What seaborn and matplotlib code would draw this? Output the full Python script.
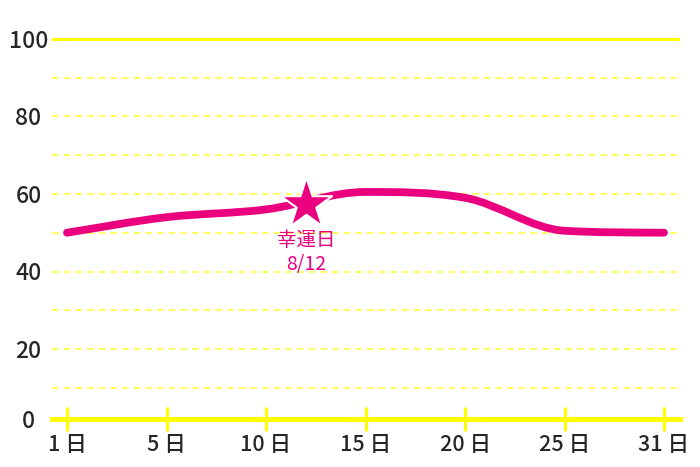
import numpy as np
import pandas as pd
import seaborn as sns
import matplotlib.pyplot as plt
from matplotlib.path import Path
from matplotlib.patches import PathPatch

sns.set_style("white")
plt.rcParams['font.family'] = ['Noto Sans CJK JP', 'DejaVu Sans']

# data
days = [1, 5, 10, 15, 20, 25, 31]
values = [50, 54, 56, 60.5, 59, 50.5, 50]
tick_labels = ["1 日", "5 日", "10 日", "15 日", "20 日", "25 日", "31 日"]
lucky_day = 12
lucky_value = 57.5
lucky_text = "幸運日\n8/12"
y_ticks = [0, 20, 40, 60, 80, 100]

pink = "#ea007f"
yellow = "#ffff00"
axis_base = 1.86  # the x axis line sits a little above zero in the original

# ticks are evenly spaced categories, so map day -> category position
pos = np.arange(len(days), dtype=float)
df = pd.DataFrame({"x": pos, "value": values})
lucky = pd.DataFrame({"x": [np.interp(lucky_day, days, pos)], "value": [lucky_value]})


def monotone_path(x, y):
    # monotone cubic (like chart.js) turned into bezier segments
    y = np.asarray(y, dtype=float)
    d = np.diff(y) / np.diff(x)
    m = np.zeros(len(y))
    m[0], m[-1] = d[0], d[-1]
    for k in range(1, len(y) - 1):
        m[k] = 0 if d[k - 1] * d[k] <= 0 else (d[k - 1] + d[k]) / 2
    for k in range(len(d)):
        if d[k] == 0:
            m[k] = m[k + 1] = 0
            continue
        a, b = m[k] / d[k], m[k + 1] / d[k]
        s = a * a + b * b
        if s > 9:
            t = 3 / np.sqrt(s)
            m[k] = t * a * d[k]
            m[k + 1] = t * b * d[k]
    verts = [(x[0], y[0])]
    codes = [Path.MOVETO]
    for k in range(len(d)):
        h = x[k + 1] - x[k]
        verts += [(x[k] + h / 3, y[k] + m[k] * h / 3),
                  (x[k + 1] - h / 3, y[k + 1] - m[k + 1] * h / 3),
                  (x[k + 1], y[k + 1])]
        codes += [Path.CURVE4] * 3
    return Path(verts, codes)


fig = plt.figure(figsize=(7, 4.67), dpi=100)
ax = fig.add_axes([52 / 700, (467 - 440) / 467, 628 / 700, 410 / 467])

# grid lines
for y in range(10, 100, 10):
    ax.axhline(y, color="#ffff66", lw=1.5, ls=(0, (3.2, 2.4)), zorder=1)
ax.axhline(100, color=yellow, lw=2.2, zorder=1)

ax.add_patch(PathPatch(monotone_path(df["x"].values, df["value"].values),
                       fill=False, ec=pink, lw=5.6, capstyle="round",
                       joinstyle="round", zorder=3))
sns.scatterplot(data=lucky, x="x", y="value", ax=ax, marker="*", s=1500,
                color=pink, edgecolor="white", linewidth=1.5, zorder=4)
ax.text(lucky["x"][0], lucky_value - 6.7, lucky_text, color=pink,
        fontsize=14, ha="center", va="top", linespacing=1.2, zorder=4)

ax.set_xlim(-15 / 99.5, 6 + 16 / 99.5)
ax.set_ylim(-13.3 / 3.88, 100 + 8.7 / 3.88)

for s in ["top", "right", "left"]:
    ax.spines[s].set_visible(False)
ax.spines["bottom"].set_position(("data", axis_base))
ax.spines["bottom"].set_color(yellow)
ax.spines["bottom"].set_linewidth(3.6)
ax.spines["bottom"].set_zorder(2)

ax.set_xticks(pos)
ax.set_xticklabels(tick_labels, fontsize=15.5, fontweight="medium")
ax.tick_params(axis="x", bottom=True, direction="inout", length=17,
               width=2.2, color=yellow, pad=2)
ax.set_yticks([axis_base] + y_ticks[1:])
ax.set_yticklabels([str(v) for v in y_ticks], fontsize=16.5,
                   fontweight="medium", ha="center")
ax.tick_params(axis="y", left=False, length=0, pad=17)
ax.set_xlabel("")
ax.set_ylabel("")

fig.savefig("out.png", dpi=100)
